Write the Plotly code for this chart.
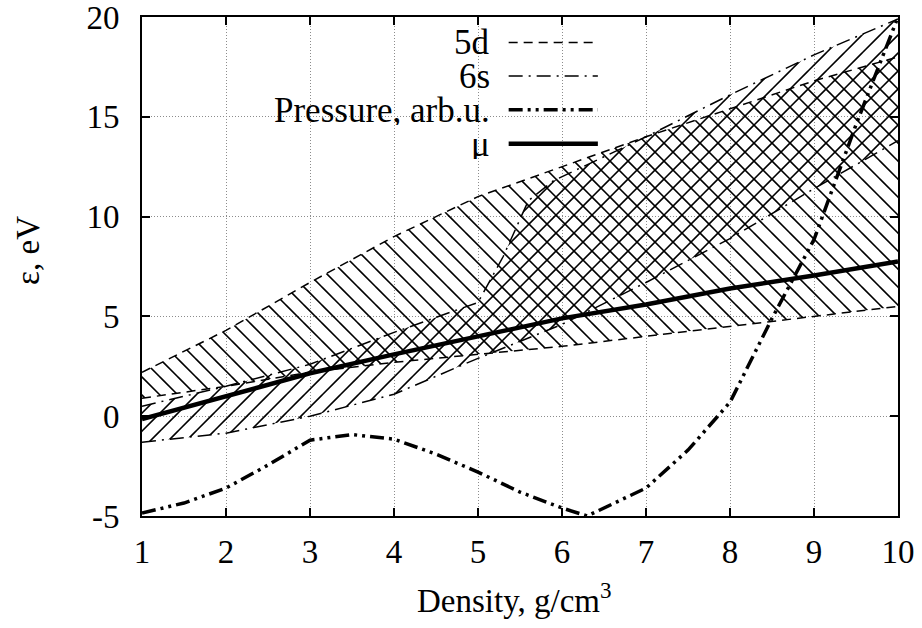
import math
import plotly.graph_objects as go

# ---- data ----
x_grid = [1, 2, 3, 4, 5, 6, 7, 8, 9, 10]
d5_low = [0.9, 1.5, 2.2, 2.7, 3.1, 3.5, 4.0, 4.5, 5.0, 5.5]
d5_up = [2.2, 4.3, 6.7, 9.0, 11.0, 12.5, 14.0, 15.4, 16.8, 18.0]

s6_low = [-1.3, -0.85, 0.0, 1.1, 2.9, 4.6, 6.7, 8.9, 11.4, 13.8]
x_s6_up = [1, 2, 3, 4, 5, 5.3, 5.6, 5.9, 6.5, 7, 8, 9, 10]
s6_up = [0.5, 1.5, 2.6, 4.2, 5.7, 8.0, 10.8, 11.8, 13.0, 14.0, 16.1, 18.1, 19.9]

mu = [-0.15, 1.0, 2.15, 3.1, 4.0, 4.9, 5.6, 6.4, 7.05, 7.75]

x_p = [1, 1.5, 2, 2.5, 3, 3.5, 4, 4.5, 5, 5.5, 6, 6.3, 7, 7.5, 8, 8.5, 9, 9.5, 10]
pressure = [-4.85, -4.35, -3.6, -2.45, -1.2, -0.92, -1.15, -1.9, -2.8, -3.8, -4.6,
            -5.0, -3.6, -1.7, 0.7, 4.9, 8.85, 14.6, 20.0]

y_ticks = [-5, 0, 5, 10, 15, 20]
y_ticktext = ["-5", "0", "5", "10", "15", "20"]
x_ticks = [1, 2, 3, 4, 5, 6, 7, 8, 9, 10]

legend_names = ["5d", "6s", "Pressure, arb.u.", "\u03bc"]

FONT = "Liberation Serif"
FS = 33
DASH_5D = "9px,6px"
DASH_6S = "14px,6px,2px,6px"
DASH_P = "14px,5px,3px,5px,3px,5px"

fig = go.Figure()

clear = "rgba(0,0,0,0)"
HATCH_SIZE = 18 / math.sqrt(2)   # integer pattern tile -> crisp lines
HATCH_SOL = 0.125
BLW = 1.5

# 5d band
fig.add_trace(go.Scatter(x=x_grid, y=d5_low, mode="lines",
                         line=dict(color="black", width=BLW, dash=DASH_5D),
                         showlegend=False, hoverinfo="skip"))
fig.add_trace(go.Scatter(x=x_grid, y=d5_up, mode="lines",
                         line=dict(color="black", width=BLW, dash=DASH_5D),
                         fill="tonexty", fillcolor=clear,
                         fillpattern=dict(shape="\\", fgcolor="black", bgcolor=clear,
                                          fgopacity=1, size=HATCH_SIZE, solidity=HATCH_SOL),
                         showlegend=False, hoverinfo="skip"))
# 6s band
fig.add_trace(go.Scatter(x=x_grid, y=s6_low, mode="lines",
                         line=dict(color="black", width=BLW, dash=DASH_6S),
                         showlegend=False, hoverinfo="skip"))
fig.add_trace(go.Scatter(x=x_s6_up, y=s6_up, mode="lines",
                         line=dict(color="black", width=BLW, dash=DASH_6S),
                         fill="tonexty", fillcolor=clear,
                         fillpattern=dict(shape="/", fgcolor="black", bgcolor=clear,
                                          fgopacity=1, size=HATCH_SIZE, solidity=HATCH_SOL),
                         showlegend=False, hoverinfo="skip"))
# pressure
fig.add_trace(go.Scatter(x=x_p, y=pressure, mode="lines",
                         line=dict(color="black", width=3.5, dash=DASH_P),
                         showlegend=False, hoverinfo="skip"))
# mu
fig.add_trace(go.Scatter(x=x_grid, y=mu, mode="lines",
                         line=dict(color="black", width=4.5),
                         showlegend=False, hoverinfo="skip"))

# ---- gnuplot-style key (text left, sample right) ----
shapes = [dict(type="rect", xref="paper", yref="paper", x0=0.026, x1=0.631, y0=0.708, y1=1.0,
               fillcolor="white", line=dict(width=0), layer="between")]
annotations = []
row_y = [0.949, 0.882, 0.814, 0.746]
styles = [dict(width=BLW, dash=DASH_5D), dict(width=BLW, dash=DASH_6S),
          dict(width=3.5, dash=DASH_P), dict(width=4.5, dash="solid")]
for name, yy, st in zip(legend_names, row_y, styles):
    annotations.append(dict(text=name, xref="paper", yref="paper", x=0.462, y=yy,
                            xanchor="right", yanchor="middle", showarrow=False,
                            height=30, borderpad=0,
                            font=dict(family=FONT, size=FS + 2, color="black")))
    shapes.append(dict(type="line", xref="paper", yref="paper", x0=0.485, x1=0.603,
                       y0=yy, y1=yy, line=dict(color="black", **st)))

annotations.append(dict(text="Density, g/cm<sup>3</sup>", xref="paper", yref="paper",
                        x=0.493, y=-0.165, xanchor="center", yanchor="middle",
                        showarrow=False, font=dict(family=FONT, size=FS, color="black")))
annotations.append(dict(text="\u03b5, eV", xref="paper", yref="paper",
                        x=-0.151, y=0.533, xanchor="center", yanchor="middle", textangle=-90,
                        showarrow=False, font=dict(family=FONT, size=FS, color="black")))

axis_common = dict(showline=True, linecolor="black", linewidth=2, mirror="ticks",
                   ticks="inside", ticklen=8, tickwidth=1.5, tickcolor="black",
                   showgrid=True, gridcolor="#8c8c8c", gridwidth=1, griddash="1px,2px",
                   zeroline=False, ticklabeloverflow="allow", automargin=False,
                   tickfont=dict(family=FONT, size=FS, color="black"))

fig.update_layout(
    width=922, height=628,
    margin=dict(l=142, r=24, t=17, b=112),
    paper_bgcolor="white", plot_bgcolor="white",
    showlegend=False,
    xaxis=dict(range=[1, 10], tickvals=x_ticks, ticklabelstandoff=5, **axis_common),
    yaxis=dict(range=[-5, 20], tickvals=y_ticks, ticktext=y_ticktext,
               ticklabelstandoff=14, **axis_common),
    shapes=shapes, annotations=annotations,
)

fig.write_html("out.html")
